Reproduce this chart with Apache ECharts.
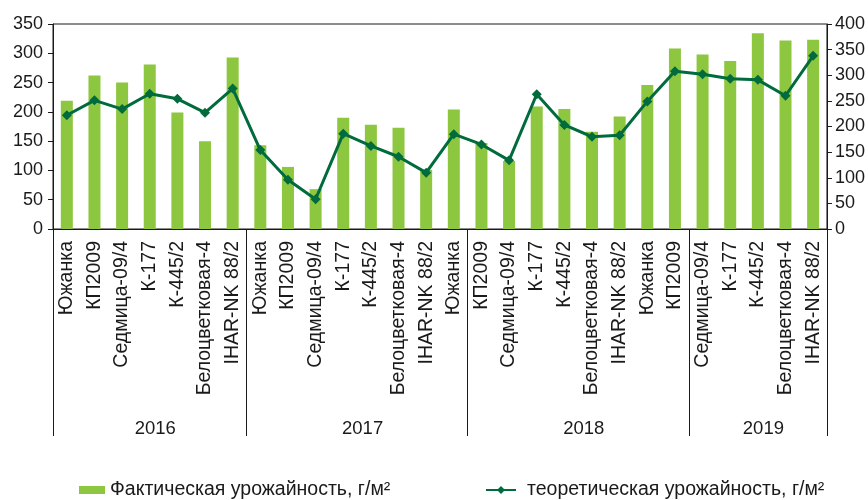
<!DOCTYPE html>
<html>
<head>
<meta charset="utf-8">
<script src="https://cdn.jsdelivr.net/npm/echarts@6/dist/echarts.min.js"></script>
<style>
  html, body { margin: 0; padding: 0; background: #fff; }
  #main { width: 868px; height: 500px; }
</style>
</head>
<body>
<div id="main"></div>
<script>
// varieties, as labelled under the bars (28 bars)
var categories = [
  "Южанка", "КП2009", "Седмица-09/4", "К-177", "К-445/2", "Белоцветковая-4", "IHAR-NK 88/2",
  "Южанка", "КП2009", "Седмица-09/4", "К-177", "К-445/2", "Белоцветковая-4", "IHAR-NK 88/2",
  "Южанка", "КП2009", "Седмица-09/4", "К-177", "К-445/2", "Белоцветковая-4", "IHAR-NK 88/2",
  "Южанка", "КП2009", "Седмица-09/4", "К-177", "К-445/2", "Белоцветковая-4", "IHAR-NK 88/2"
];
// years and how many bars each year bracket covers
var years = ["2016", "2017", "2018", "2019"];
var yearSpans = [7, 8, 8, 5];

var actualYield = [
  219, 262, 250, 281, 199, 150, 293,
  143, 106, 68, 190, 178, 173, 101,
  204, 147, 116, 209, 205, 166, 192,
  246, 308, 298, 287, 334, 322, 323
];
var theoreticalYield = [
  222, 251, 234, 264, 254, 227, 274,
  154, 96, 58, 186, 162, 141, 110,
  185, 165, 134, 263, 203, 180, 183,
  249, 308, 302, 293, 291, 260, 338
];

var leftTicks = { min: 0, max: 350, step: 50 };
var rightTicks = { min: 0, max: 400, step: 50 };

var FONT = "Liberation Sans, Arial, sans-serif";
var INK = "#1a1a1a";
var BAR = "#8dc63f";
var LINE = "#006b3c";

// year bracket boundaries and label centres
var bounds = [0];
yearSpans.forEach(function (n) { bounds.push(bounds[bounds.length - 1] + n); });
var centres = yearSpans.map(function (n, i) { return bounds[i] + n / 2 + 0.2; });

var chart = echarts.init(document.getElementById("main"));
chart.setOption({
  animation: false,
  textStyle: { fontFamily: FONT },
  grid: {
    left: 53, right: 41, top: 24, bottom: 271,
    show: true, borderColor: INK, borderWidth: 1, backgroundColor: "transparent"
  },
  legend: [
    {
      data: ["Фактическая урожайность, г/м²"],
      left: 74, top: 475,
      itemWidth: 26, itemHeight: 8, icon: "rect",
      textStyle: { fontSize: 19.5, color: INK, fontFamily: FONT }
    },
    {
      data: ["теоретическая урожайность, г/м²"],
      left: 480, top: 475,
      itemWidth: 30, itemHeight: 10,
      textStyle: { fontSize: 19.5, color: INK, fontFamily: FONT, padding: [0, 0, 0, 6] }
    }
  ],
  xAxis: [
    {
      type: "category",
      data: categories,
      position: "bottom",
      axisLine: { lineStyle: { color: INK, width: 1 } },
      axisTick: { interval: 0, length: 95, lineStyle: { color: INK } },
      axisLabel: {
        interval: 0, rotate: 90, margin: 12,
        fontSize: 19.5, color: INK, fontFamily: FONT
      }
    },
    {
      type: "value",
      min: 0, max: categories.length,
      position: "bottom",
      axisLine: { show: false },
      splitLine: { show: false },
      axisTick: {
        show: true, length: 207, customValues: bounds,
        lineStyle: { color: INK }
      },
      axisLabel: {
        customValues: centres,
        margin: 190, fontSize: 18.5, color: INK, fontFamily: FONT,
        formatter: function (v) {
          for (var i = 0; i < centres.length; i++) {
            if (Math.abs(centres[i] - v) < 1e-6) return years[i];
          }
          return "";
        }
      }
    }
  ],
  yAxis: [
    {
      type: "value",
      min: leftTicks.min, max: leftTicks.max, interval: leftTicks.step,
      axisLine: { show: true, lineStyle: { color: INK } },
      axisTick: { show: true, length: 5, lineStyle: { color: INK } },
      splitLine: { show: false },
      axisLabel: { fontSize: 18, color: INK, margin: 10, fontFamily: FONT }
    },
    {
      type: "value",
      position: "right",
      min: rightTicks.min, max: rightTicks.max, interval: rightTicks.step,
      axisLine: { show: true, lineStyle: { color: INK } },
      axisTick: { show: true, length: 5, lineStyle: { color: INK } },
      splitLine: { show: false },
      axisLabel: { fontSize: 18, color: INK, margin: 8, fontFamily: FONT }
    }
  ],
  series: [
    {
      name: "Фактическая урожайность, г/м²",
      type: "bar",
      xAxisIndex: 0,
      yAxisIndex: 0,
      barWidth: 12,
      itemStyle: { color: BAR },
      data: actualYield
    },
    {
      name: "теоретическая урожайность, г/м²",
      type: "line",
      xAxisIndex: 0,
      yAxisIndex: 1,
      symbol: "diamond",
      symbolSize: 10,
      itemStyle: { color: LINE },
      lineStyle: { color: LINE, width: 3 },
      data: theoreticalYield
    }
  ]
});
</script>
</body>
</html>
